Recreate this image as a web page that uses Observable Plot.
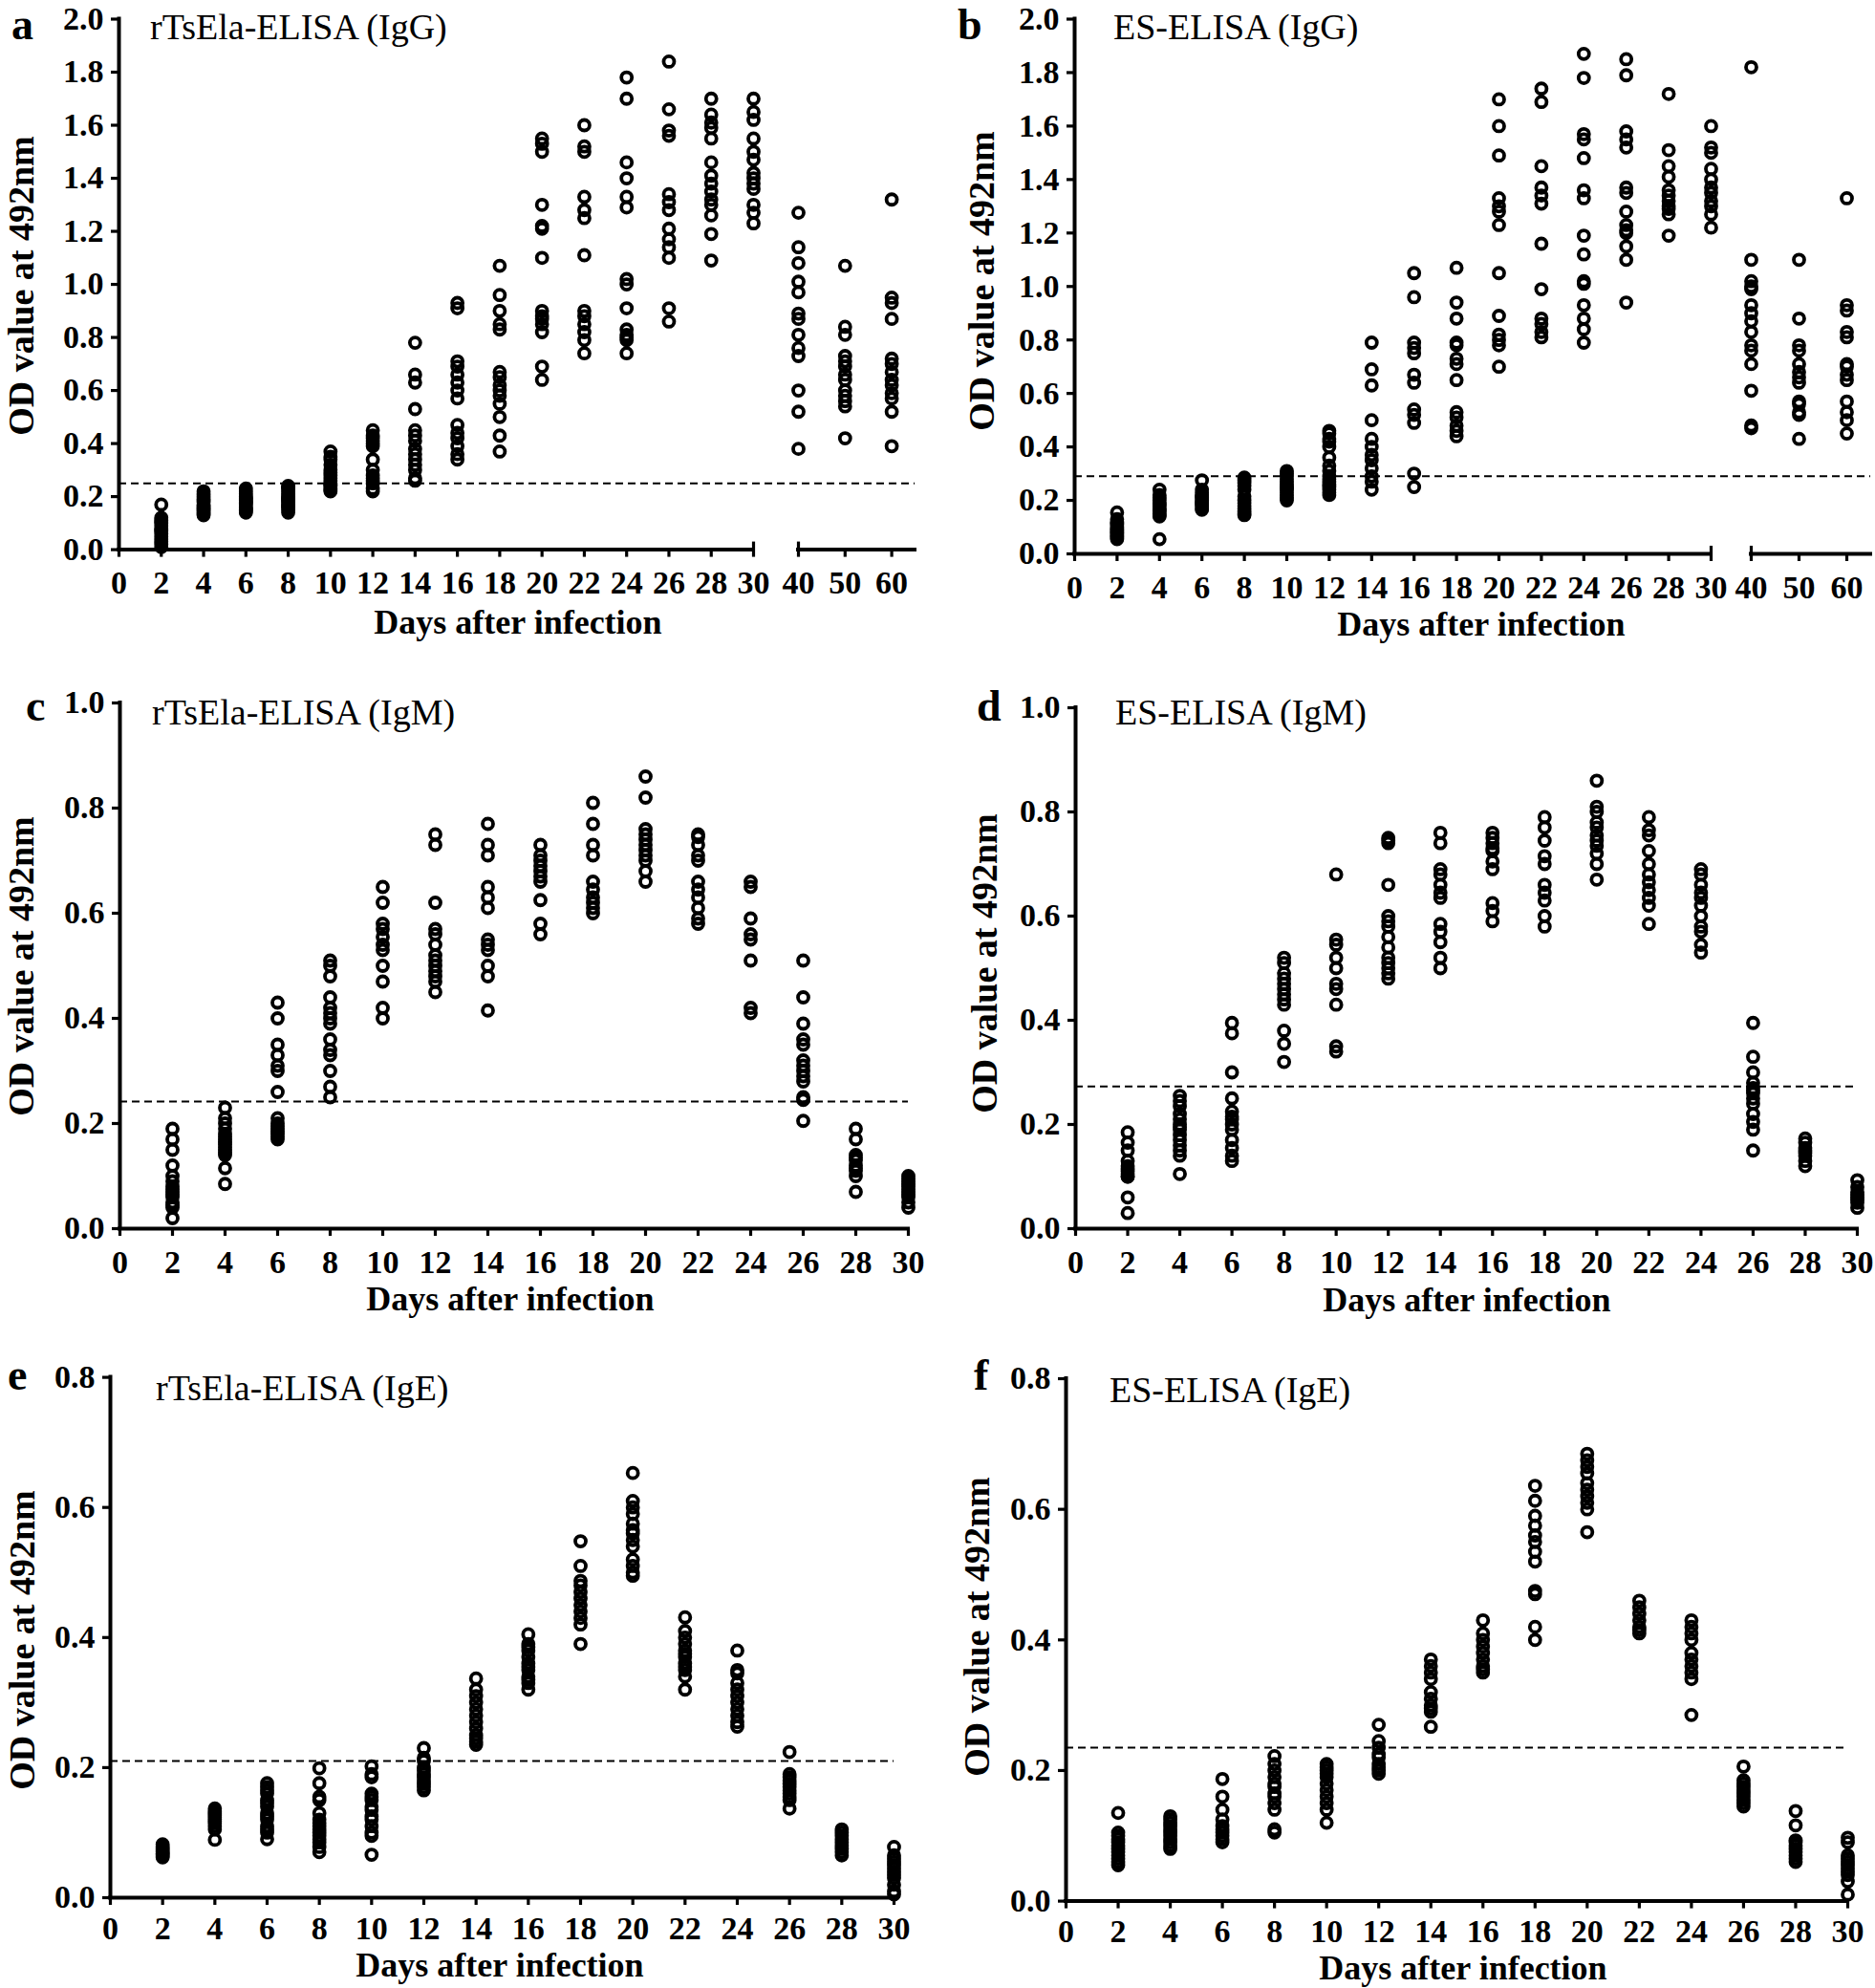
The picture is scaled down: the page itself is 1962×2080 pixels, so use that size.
<!DOCTYPE html>
<html>
<head>
<meta charset="utf-8">
<script src="https://cdn.jsdelivr.net/npm/d3@7"></script>
<script src="https://cdn.jsdelivr.net/npm/@observablehq/plot@0.6"></script>
<style>
  body { margin: 0; background: #fff; }
  #page { position: relative; width: 1962px; height: 2080px; overflow: hidden; background: #fff;
          font-family: "Liberation Serif", "Times New Roman", serif; color: #000; }
  .panel { position: absolute; }
  .txt { position: absolute; white-space: nowrap; line-height: 0.7; }
</style>
</head>
<body>
<div id="page"></div>
<script>
// ---------------- DATA ----------------
const letters = ["a", "b", "c", "d", "e", "f"];
const titles = ["rTsEla-ELISA (IgG)", "ES-ELISA (IgG)", "rTsEla-ELISA (IgM)", "ES-ELISA (IgM)", "rTsEla-ELISA (IgE)", "ES-ELISA (IgE)"];
const yLabel = "OD value at 492nm";
const xLabel = "Days after infection";

const daysIgG = [2, 4, 6, 8, 10, 12, 14, 16, 18, 20, 22, 24, 26, 28, 30, 40, 50, 60];
const days30 = [2, 4, 6, 8, 10, 12, 14, 16, 18, 20, 22, 24, 26, 28, 30];

const xTicksIgG = [0, 2, 4, 6, 8, 10, 12, 14, 16, 18, 20, 22, 24, 26, 28, 30, 40, 50, 60];
const xTicks30 = [0, 2, 4, 6, 8, 10, 12, 14, 16, 18, 20, 22, 24, 26, 28, 30];
const yTicksIgG = [0, 0.2, 0.4, 0.6, 0.8, 1.0, 1.2, 1.4, 1.6, 1.8, 2.0];
const yTicksIgM = [0, 0.2, 0.4, 0.6, 0.8, 1.0];
const yTicksIgE = [0, 0.2, 0.4, 0.6, 0.8];

const cutoffs = [0.25, 0.29, 0.242, 0.273, 0.21, 0.235];

// a: rTsEla-ELISA (IgG)
const odA = [
  [0.17, 0.12, 0.11, 0.105, 0.10, 0.09, 0.08, 0.075, 0.07, 0.06, 0.05, 0.04, 0.03, 0.02, 0.01],
  [0.22, 0.21, 0.20, 0.19, 0.185, 0.18, 0.17, 0.165, 0.16, 0.155, 0.15, 0.145, 0.14, 0.135, 0.13],
  [0.23, 0.22, 0.21, 0.20, 0.195, 0.19, 0.185, 0.18, 0.175, 0.17, 0.16, 0.155, 0.15, 0.145, 0.14],
  [0.24, 0.235, 0.23, 0.22, 0.21, 0.20, 0.195, 0.19, 0.185, 0.18, 0.17, 0.165, 0.16, 0.15, 0.14],
  [0.37, 0.35, 0.34, 0.32, 0.30, 0.29, 0.28, 0.27, 0.26, 0.25, 0.245, 0.24, 0.23, 0.225, 0.22],
  [0.45, 0.43, 0.42, 0.41, 0.40, 0.39, 0.34, 0.30, 0.28, 0.27, 0.26, 0.25, 0.23, 0.22],
  [0.78, 0.66, 0.63, 0.53, 0.45, 0.43, 0.41, 0.38, 0.36, 0.34, 0.32, 0.30, 0.27, 0.26],
  [0.93, 0.91, 0.71, 0.69, 0.66, 0.63, 0.60, 0.57, 0.47, 0.44, 0.42, 0.39, 0.36, 0.34],
  [1.07, 0.96, 0.90, 0.85, 0.83, 0.67, 0.65, 0.62, 0.60, 0.58, 0.55, 0.50, 0.43, 0.37],
  [1.55, 1.53, 1.50, 1.30, 1.22, 1.21, 1.10, 0.90, 0.88, 0.87, 0.85, 0.82, 0.69, 0.64],
  [1.60, 1.52, 1.50, 1.33, 1.28, 1.25, 1.11, 0.90, 0.88, 0.85, 0.82, 0.79, 0.74],
  [1.78, 1.70, 1.46, 1.40, 1.33, 1.29, 1.02, 1.00, 0.91, 0.83, 0.81, 0.80, 0.79, 0.74],
  [1.84, 1.66, 1.58, 1.56, 1.34, 1.31, 1.28, 1.21, 1.17, 1.14, 1.10, 0.91, 0.86],
  [1.70, 1.64, 1.61, 1.59, 1.55, 1.46, 1.41, 1.38, 1.35, 1.32, 1.30, 1.26, 1.19, 1.09],
  [1.70, 1.65, 1.62, 1.55, 1.50, 1.47, 1.42, 1.40, 1.38, 1.36, 1.30, 1.27, 1.23],
  [1.27, 1.14, 1.08, 1.01, 0.97, 0.89, 0.87, 0.81, 0.76, 0.73, 0.60, 0.52, 0.38],
  [1.07, 0.84, 0.81, 0.73, 0.71, 0.69, 0.66, 0.64, 0.60, 0.58, 0.56, 0.54, 0.42],
  [1.32, 0.95, 0.93, 0.87, 0.72, 0.70, 0.67, 0.64, 0.62, 0.59, 0.57, 0.52, 0.39]
];

// b: ES-ELISA (IgG)
const odB = [
  [0.155, 0.13, 0.12, 0.115, 0.11, 0.10, 0.095, 0.09, 0.085, 0.08, 0.075, 0.07, 0.065, 0.06, 0.055],
  [0.24, 0.22, 0.21, 0.20, 0.19, 0.185, 0.18, 0.17, 0.165, 0.16, 0.15, 0.145, 0.14, 0.055],
  [0.275, 0.24, 0.23, 0.22, 0.215, 0.21, 0.20, 0.195, 0.19, 0.185, 0.18, 0.17, 0.165],
  [0.285, 0.275, 0.265, 0.255, 0.24, 0.215, 0.20, 0.19, 0.18, 0.17, 0.16, 0.15, 0.145],
  [0.31, 0.30, 0.29, 0.28, 0.27, 0.26, 0.25, 0.245, 0.24, 0.23, 0.22, 0.21, 0.20],
  [0.46, 0.45, 0.43, 0.42, 0.40, 0.36, 0.33, 0.31, 0.29, 0.28, 0.27, 0.26, 0.25, 0.24, 0.23, 0.22],
  [0.79, 0.69, 0.63, 0.50, 0.43, 0.40, 0.37, 0.35, 0.32, 0.29, 0.27, 0.24],
  [1.05, 0.96, 0.79, 0.77, 0.75, 0.67, 0.64, 0.54, 0.52, 0.49, 0.30, 0.25],
  [1.07, 0.94, 0.88, 0.79, 0.78, 0.73, 0.71, 0.65, 0.53, 0.51, 0.48, 0.46, 0.44],
  [1.70, 1.60, 1.49, 1.33, 1.30, 1.28, 1.23, 1.05, 0.89, 0.82, 0.80, 0.78, 0.70],
  [1.74, 1.69, 1.45, 1.37, 1.34, 1.31, 1.16, 0.99, 0.88, 0.86, 0.83, 0.81],
  [1.87, 1.78, 1.57, 1.55, 1.48, 1.36, 1.33, 1.19, 1.12, 1.02, 1.01, 0.93, 0.88, 0.84, 0.79],
  [1.85, 1.79, 1.58, 1.55, 1.52, 1.37, 1.35, 1.28, 1.23, 1.21, 1.20, 1.15, 1.10, 0.94],
  [1.72, 1.51, 1.45, 1.41, 1.36, 1.34, 1.32, 1.30, 1.29, 1.27, 1.19],
  [1.60, 1.52, 1.50, 1.44, 1.40, 1.37, 1.35, 1.32, 1.30, 1.27, 1.22],
  [1.82, 1.10, 1.02, 1.00, 0.99, 0.93, 0.90, 0.87, 0.83, 0.78, 0.76, 0.71, 0.61, 0.48, 0.47],
  [1.10, 0.88, 0.78, 0.76, 0.71, 0.68, 0.66, 0.64, 0.57, 0.56, 0.53, 0.52, 0.43],
  [1.33, 0.93, 0.91, 0.83, 0.81, 0.71, 0.70, 0.67, 0.65, 0.57, 0.53, 0.50, 0.45]
];

// c: rTsEla-ELISA (IgM)
const odC = [
  [0.19, 0.17, 0.15, 0.12, 0.10, 0.09, 0.08, 0.075, 0.07, 0.065, 0.06, 0.05, 0.045, 0.04, 0.02],
  [0.23, 0.21, 0.20, 0.19, 0.18, 0.175, 0.17, 0.165, 0.16, 0.155, 0.15, 0.145, 0.14, 0.115, 0.085],
  [0.43, 0.40, 0.35, 0.33, 0.31, 0.30, 0.26, 0.21, 0.20, 0.195, 0.19, 0.185, 0.18, 0.175, 0.17],
  [0.51, 0.50, 0.48, 0.44, 0.42, 0.41, 0.40, 0.39, 0.36, 0.34, 0.33, 0.30, 0.27, 0.25],
  [0.65, 0.62, 0.58, 0.57, 0.555, 0.54, 0.53, 0.50, 0.47, 0.42, 0.40],
  [0.75, 0.73, 0.62, 0.57, 0.56, 0.54, 0.52, 0.51, 0.50, 0.49, 0.48, 0.47, 0.45],
  [0.77, 0.73, 0.71, 0.65, 0.63, 0.61, 0.55, 0.54, 0.53, 0.50, 0.48, 0.415],
  [0.73, 0.71, 0.70, 0.69, 0.68, 0.67, 0.66, 0.625, 0.58, 0.56],
  [0.81, 0.77, 0.73, 0.71, 0.66, 0.645, 0.63, 0.62, 0.61, 0.60],
  [0.86, 0.82, 0.76, 0.75, 0.74, 0.73, 0.72, 0.71, 0.70, 0.68, 0.66],
  [0.75, 0.745, 0.73, 0.71, 0.70, 0.66, 0.645, 0.63, 0.61, 0.59, 0.58],
  [0.66, 0.65, 0.59, 0.56, 0.55, 0.51, 0.42, 0.41],
  [0.51, 0.44, 0.39, 0.36, 0.35, 0.32, 0.31, 0.30, 0.29, 0.28, 0.25, 0.245, 0.205],
  [0.19, 0.17, 0.14, 0.135, 0.13, 0.12, 0.115, 0.11, 0.10, 0.07],
  [0.10, 0.095, 0.09, 0.085, 0.08, 0.075, 0.07, 0.065, 0.06, 0.05, 0.04]
];

// d: ES-ELISA (IgM)
const odD = [
  [0.185, 0.165, 0.15, 0.13, 0.12, 0.115, 0.11, 0.105, 0.10, 0.10, 0.06, 0.03],
  [0.255, 0.245, 0.235, 0.22, 0.21, 0.20, 0.195, 0.19, 0.18, 0.17, 0.16, 0.15, 0.14, 0.105],
  [0.395, 0.375, 0.30, 0.25, 0.225, 0.215, 0.21, 0.20, 0.19, 0.17, 0.155, 0.14, 0.13],
  [0.52, 0.51, 0.49, 0.48, 0.47, 0.46, 0.45, 0.44, 0.43, 0.38, 0.355, 0.32],
  [0.68, 0.555, 0.545, 0.52, 0.50, 0.47, 0.46, 0.43, 0.35, 0.34],
  [0.75, 0.745, 0.74, 0.66, 0.60, 0.59, 0.58, 0.56, 0.54, 0.52, 0.51, 0.50, 0.49, 0.48],
  [0.76, 0.74, 0.69, 0.68, 0.66, 0.645, 0.635, 0.585, 0.57, 0.55, 0.52, 0.50],
  [0.76, 0.75, 0.74, 0.73, 0.725, 0.705, 0.69, 0.625, 0.61, 0.59],
  [0.79, 0.77, 0.745, 0.715, 0.70, 0.66, 0.645, 0.63, 0.60, 0.58],
  [0.86, 0.81, 0.80, 0.78, 0.77, 0.755, 0.745, 0.735, 0.72, 0.70, 0.67],
  [0.79, 0.765, 0.755, 0.725, 0.70, 0.68, 0.665, 0.65, 0.635, 0.62, 0.585],
  [0.69, 0.68, 0.66, 0.645, 0.635, 0.62, 0.60, 0.58, 0.57, 0.545, 0.53],
  [0.395, 0.33, 0.30, 0.28, 0.27, 0.265, 0.26, 0.25, 0.24, 0.22, 0.205, 0.19, 0.15],
  [0.173, 0.165, 0.155, 0.15, 0.145, 0.14, 0.13, 0.12],
  [0.093, 0.08, 0.07, 0.065, 0.06, 0.055, 0.05, 0.04]
];

// e: rTsEla-ELISA (IgE)
const odE = [
  [0.082, 0.078, 0.075, 0.072, 0.07, 0.068, 0.066, 0.064, 0.062],
  [0.137, 0.133, 0.13, 0.127, 0.124, 0.121, 0.118, 0.115, 0.11, 0.105, 0.089],
  [0.176, 0.17, 0.165, 0.16, 0.15, 0.145, 0.14, 0.13, 0.125, 0.12, 0.11, 0.105, 0.10, 0.09],
  [0.199, 0.176, 0.155, 0.15, 0.13, 0.12, 0.115, 0.11, 0.105, 0.10, 0.095, 0.09, 0.085, 0.078, 0.07],
  [0.202, 0.19, 0.185, 0.16, 0.155, 0.15, 0.14, 0.135, 0.125, 0.12, 0.11, 0.10, 0.095, 0.066],
  [0.23, 0.215, 0.21, 0.20, 0.195, 0.19, 0.185, 0.18, 0.175, 0.17, 0.165],
  [0.337, 0.32, 0.31, 0.30, 0.29, 0.28, 0.27, 0.26, 0.25, 0.245, 0.24, 0.235],
  [0.405, 0.39, 0.385, 0.38, 0.37, 0.36, 0.355, 0.35, 0.34, 0.335, 0.33, 0.32],
  [0.548, 0.51, 0.487, 0.48, 0.47, 0.46, 0.45, 0.44, 0.43, 0.42, 0.39],
  [0.653, 0.61, 0.60, 0.59, 0.575, 0.565, 0.56, 0.55, 0.54, 0.52, 0.51, 0.50, 0.495],
  [0.431, 0.41, 0.40, 0.39, 0.38, 0.375, 0.37, 0.36, 0.355, 0.35, 0.34, 0.32],
  [0.38, 0.35, 0.345, 0.33, 0.32, 0.31, 0.30, 0.29, 0.28, 0.27, 0.263],
  [0.224, 0.19, 0.185, 0.18, 0.175, 0.17, 0.165, 0.16, 0.155, 0.15, 0.137],
  [0.105, 0.10, 0.095, 0.09, 0.085, 0.08, 0.075, 0.07, 0.065],
  [0.078, 0.065, 0.06, 0.055, 0.05, 0.045, 0.04, 0.035, 0.03, 0.02, 0.01, 0.005]
];

// f: ES-ELISA (IgE)
const odF = [
  [0.135, 0.105, 0.10, 0.095, 0.09, 0.085, 0.08, 0.075, 0.07, 0.065, 0.06, 0.055],
  [0.13, 0.125, 0.12, 0.115, 0.11, 0.105, 0.10, 0.095, 0.09, 0.085, 0.08],
  [0.187, 0.16, 0.14, 0.125, 0.115, 0.11, 0.105, 0.10, 0.095, 0.09],
  [0.222, 0.21, 0.20, 0.19, 0.18, 0.175, 0.165, 0.16, 0.15, 0.14, 0.11, 0.105],
  [0.21, 0.205, 0.20, 0.195, 0.19, 0.18, 0.17, 0.16, 0.15, 0.14, 0.12],
  [0.27, 0.245, 0.235, 0.225, 0.22, 0.21, 0.205, 0.20, 0.195],
  [0.37, 0.36, 0.35, 0.34, 0.32, 0.31, 0.30, 0.295, 0.29, 0.267],
  [0.43, 0.41, 0.40, 0.39, 0.38, 0.37, 0.36, 0.355, 0.35],
  [0.636, 0.613, 0.59, 0.575, 0.56, 0.55, 0.535, 0.52, 0.475, 0.47, 0.42, 0.40],
  [0.685, 0.675, 0.665, 0.655, 0.64, 0.63, 0.62, 0.61, 0.60, 0.565],
  [0.46, 0.45, 0.44, 0.43, 0.42, 0.415, 0.41],
  [0.43, 0.42, 0.41, 0.40, 0.38, 0.37, 0.36, 0.35, 0.34, 0.285],
  [0.206, 0.185, 0.18, 0.175, 0.17, 0.165, 0.16, 0.155, 0.15, 0.145],
  [0.138, 0.116, 0.093, 0.09, 0.085, 0.08, 0.075, 0.07, 0.065, 0.06],
  [0.097, 0.09, 0.07, 0.065, 0.06, 0.055, 0.05, 0.045, 0.04, 0.03, 0.01]
];

// ---------------- PANEL SPECS (built from the arrays above) ----------------
const panels = [
  {days: daysIgG, od: odA, xTicks: xTicksIgG, yTicks: yTicksIgG, broken: true},
  {days: daysIgG, od: odB, xTicks: xTicksIgG, yTicks: yTicksIgG, broken: true},
  {days: days30, od: odC, xTicks: xTicks30, yTicks: yTicksIgM, broken: false},
  {days: days30, od: odD, xTicks: xTicks30, yTicks: yTicksIgM, broken: false},
  {days: days30, od: odE, xTicks: xTicks30, yTicks: yTicksIgE, broken: false},
  {days: days30, od: odF, xTicks: xTicks30, yTicks: yTicksIgE, broken: false}
];

// layout (pixels)
const layout = [
  {left: 0,   top: 0,    w: 990, h: 690, xr: [124, 788, 835, 957], yTop: 19.5, yBot: 574.6, pad: 14,
   letter: [12, 42], title: [157, 41], ylab: [22, 299], xlab: [542, 664]},
  {left: 990, top: 0,    w: 972, h: 690, xr: [134, 800, 842, 967], yTop: 19.5, yBot: 579, pad: 14,
   letter: [1002, 42], title: [1165, 41], ylab: [1027, 294], xlab: [1550, 666]},
  {left: 0,   top: 690,  w: 990, h: 700, xr: [125, 950], yTop: 45, yBot: 595, pad: 14,
   letter: [27, 755], title: [159, 758], ylab: [22, 1011], xlab: [534, 1372]},
  {left: 990, top: 690,  w: 972, h: 700, xr: [135, 953], yTop: 50, yBot: 595, pad: 14,
   letter: [1022, 755], title: [1167, 758], ylab: [1030, 1008], xlab: [1535, 1373]},
  {left: 0,   top: 1390, w: 990, h: 690, xr: [115, 935], yTop: 50.6, yBot: 595, pad: 11,
   letter: [8, 1455], title: [163, 1465], ylab: [23, 1716], xlab: [523, 2069]},
  {left: 990, top: 1390, w: 972, h: 690, xr: [125, 943], yTop: 52, yBot: 598.6, pad: 11,
   letter: [1019, 1455], title: [1161, 1467], ylab: [1022, 1702], xlab: [1531, 2071.6]}
];

const page = document.getElementById("page");
const LH = 0.7; // css line-height used by .txt

function addText(str, x, y, size, weight, opts = {}) {
  const el = document.createElement("div");
  el.className = "txt";
  el.textContent = str;
  el.style.fontSize = size + "px";
  el.style.fontWeight = weight;
  if (opts.rotate) {
    el.style.left = x + "px";
    el.style.top = y + "px";
    el.style.transform = "translate(-50%, -50%) rotate(-90deg)";
  } else {
    el.style.left = x + "px";
    el.style.top = (y - (LH / 2 + 0.3375) * size) + "px";
    if (opts.middle) el.style.transform = "translateX(-50%)";
  }
  page.appendChild(el);
}

function panelPlot(p, L, cutoff) {
  const rows = p.days.flatMap((d, i) => p.od[i].map(v => ({day: d, od: v})));
  const xDomain = p.broken ? [0, 30, 40, 65] : [0, 30];
  const xEnd = xDomain[xDomain.length - 1];
  const yMax = p.yTicks[p.yTicks.length - 1];
  const cap = 8 / ((L.yBot - L.yTop) / yMax);
  const segs = p.broken ? [[0, 30], [40, 65]] : [[0, 30]];
  const marks = [
    Plot.ruleY([cutoff], {x1: 0, x2: xEnd, stroke: "#000", strokeWidth: 2, strokeDasharray: "8,5"}),
    Plot.dot(rows, {x: "day", y: "od", r: 5.5, stroke: "#000", strokeWidth: 3.8, fill: "none"}),
    Plot.ruleX([0], {y1: 0, y2: yMax, stroke: "#000", strokeWidth: 4, strokeLinecap: "square"}),
    Plot.ruleY(segs, {y: 0, x1: d => d[0], x2: d => d[1], stroke: "#000", strokeWidth: 4, strokeLinecap: "square"}),
    Plot.axisX({ticks: p.xTicks, tickSize: 8, tickPadding: L.pad, strokeWidth: 3.2, tickFormat: d => String(d), label: null}),
    Plot.axisY({ticks: p.yTicks, tickSize: 8, tickPadding: 8, strokeWidth: 3.2, tickFormat: d3.format(".1f"), label: null})
  ];
  if (p.broken) marks.push(Plot.ruleX([30, 40], {y1: 0, y2: cap, stroke: "#000", strokeWidth: 3.2}));
  return Plot.plot({
    width: L.w,
    height: L.h,
    marginLeft: L.xr[0],
    marginRight: L.w - L.xr[L.xr.length - 1],
    marginTop: L.yTop,
    marginBottom: L.h - L.yBot,
    x: {type: "linear", domain: xDomain, range: L.xr},
    y: {type: "linear", domain: [0, yMax], range: [L.yBot, L.yTop]},
    style: {fontFamily: "'Liberation Serif', 'Times New Roman', serif", fontSize: "34px", fontWeight: "bold",
            background: "transparent", overflow: "visible", color: "#000"},
    marks
  });
}

panels.forEach((p, i) => {
  const L = layout[i];
  const holder = document.createElement("div");
  holder.className = "panel";
  holder.style.left = L.left + "px";
  holder.style.top = L.top + "px";
  holder.style.width = L.w + "px";
  holder.style.height = L.h + "px";
  holder.appendChild(panelPlot(p, L, cutoffs[i]));
  page.appendChild(holder);

  addText(letters[i], L.letter[0], L.letter[1], 46, "bold");
  addText(titles[i], L.title[0], L.title[1], 38, "normal");
  addText(yLabel, L.ylab[0], L.ylab[1], 38, "bold", {rotate: true});
  addText(xLabel, L.xlab[0], L.xlab[1], 36, "bold", {middle: true});
});
</script>
</body>
</html>
